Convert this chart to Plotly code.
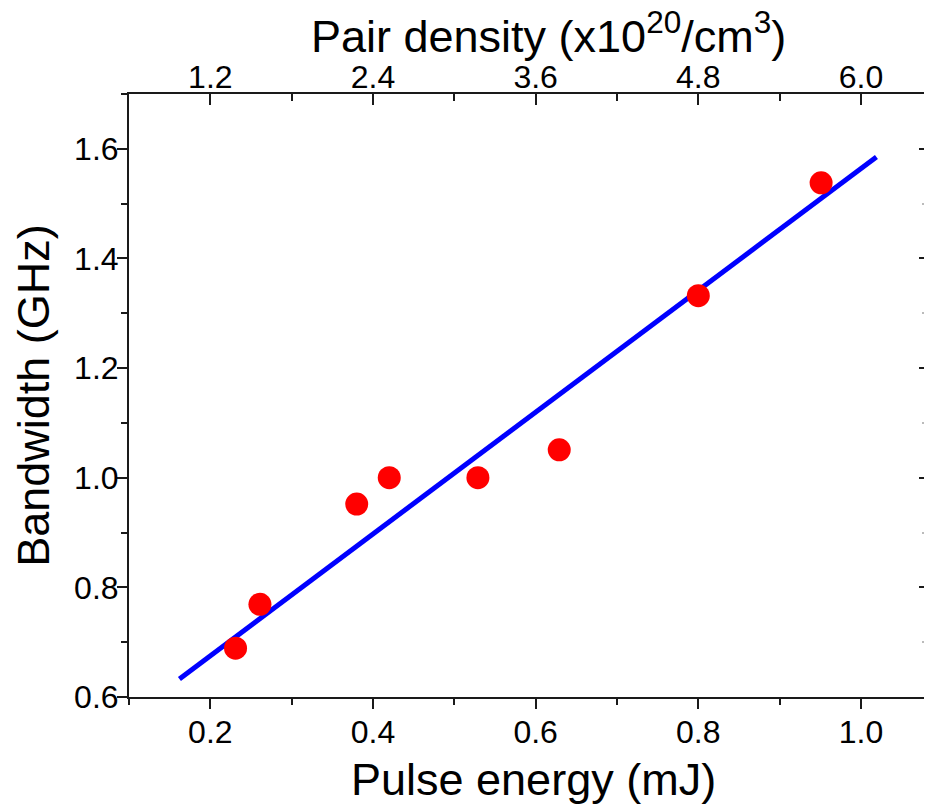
import plotly.graph_objects as go

# Data
energy = [0.231, 0.261, 0.380, 0.420, 0.529, 0.629, 0.800, 0.951]          # mJ
bandwidth = [0.689, 0.769, 0.952, 1.000, 1.000, 1.051, 1.332, 1.538]       # GHz
fit_x = [0.162, 1.019]
fit_y = [0.633, 1.585]

x_title = "Pulse energy (mJ)"
y_title = "Bandwidth (GHz)"
top_title = "Pair density (x10<sup>20</sup>/cm<sup>3</sup>)"
density_per_mJ = 6.0  # top axis = 6 x pulse energy

FONT = "Liberation Sans, Arial, sans-serif"
AX = "#1a1a1a"

x_range = [0.1, 1.0775]
y_range = [0.6, 1.7]

fig = go.Figure()
fig.add_trace(go.Scatter(x=fit_x, y=fit_y, mode="lines",
                         line=dict(color="#0000ff", width=5), showlegend=False))
fig.add_trace(go.Scatter(x=energy, y=bandwidth, mode="markers",
                         marker=dict(color="#ff0000", size=23, line=dict(width=0)),
                         showlegend=False))
fig.add_trace(go.Scatter(x=[], y=[], xaxis="x2", yaxis="y2", showlegend=False))

tickfont = dict(family=FONT, size=32, color="black")
titlefont = dict(family=FONT, size=45, color="black")
topfont = dict(family=FONT, size=45, color="black")

# page body has an 8px default margin; keep the figure inside the window
fig.update_layout(
    width=916, height=796,
    margin=dict(l=121, r=0, t=86, b=107),
    paper_bgcolor="white", plot_bgcolor="white",
    xaxis=dict(range=x_range, dtick=0.2, tick0=0.2, tickformat=".1f",
               showline=True, linecolor=AX, linewidth=2,
               ticks="outside", ticklen=10, tickwidth=2, tickcolor=AX,
               minor=dict(dtick=0.1, tick0=0.1, ticks="outside", ticklen=6,
                          tickwidth=2, tickcolor=AX),
               showgrid=False, zeroline=False, tickfont=tickfont,
               ticklabelstandoff=-4),
    yaxis=dict(range=y_range, dtick=0.2, tick0=0.6, tickformat=".1f",
               showline=True, linecolor=AX, linewidth=2,
               ticks="outside", ticklen=10, tickwidth=2, tickcolor=AX,
               minor=dict(dtick=0.1, tick0=0.6, ticks="outside", ticklen=6,
                          tickwidth=2, tickcolor=AX),
               showgrid=False, zeroline=False, tickfont=tickfont,
               ticklabelstandoff=-8,
               title=dict(text=y_title, font=titlefont, standoff=14)),
    xaxis2=dict(overlaying="x", side="top", anchor="y",
                range=[x_range[0] * density_per_mJ, x_range[1] * density_per_mJ],
                dtick=1.2, tick0=1.2, tickformat=".1f",
                showline=True, linecolor=AX, linewidth=2,
                ticks="inside", ticklen=11, tickwidth=2, tickcolor=AX,
                minor=dict(dtick=0.6, tick0=0.6, ticks="inside", ticklen=7,
                           tickwidth=2, tickcolor=AX),
                showgrid=False, zeroline=False, tickfont=tickfont,
                ticklabelstandoff=-9),
    yaxis2=dict(overlaying="y", side="right", anchor="x",
                range=y_range, dtick=0.2, tick0=0.6,
                showline=False, showticklabels=False,
                ticks="inside", ticklen=5, tickwidth=2, tickcolor=AX,
                minor=dict(dtick=0.1, tick0=0.6, ticks="inside", ticklen=2,
                           tickwidth=2, tickcolor="#bbbbbb"),
                showgrid=False, zeroline=False),
    annotations=[
        dict(text=x_title, font=titlefont, showarrow=False,
             xref="paper", yref="paper", x=0.5094, y=0,
             xanchor="center", yanchor="top", yshift=-55),
        dict(text=top_title, font=topfont, showarrow=False,
             xref="paper", yref="paper", x=0.528, y=1,
             xanchor="center", yanchor="bottom", yshift=30),
    ],
)

fig.write_html("out.html")
